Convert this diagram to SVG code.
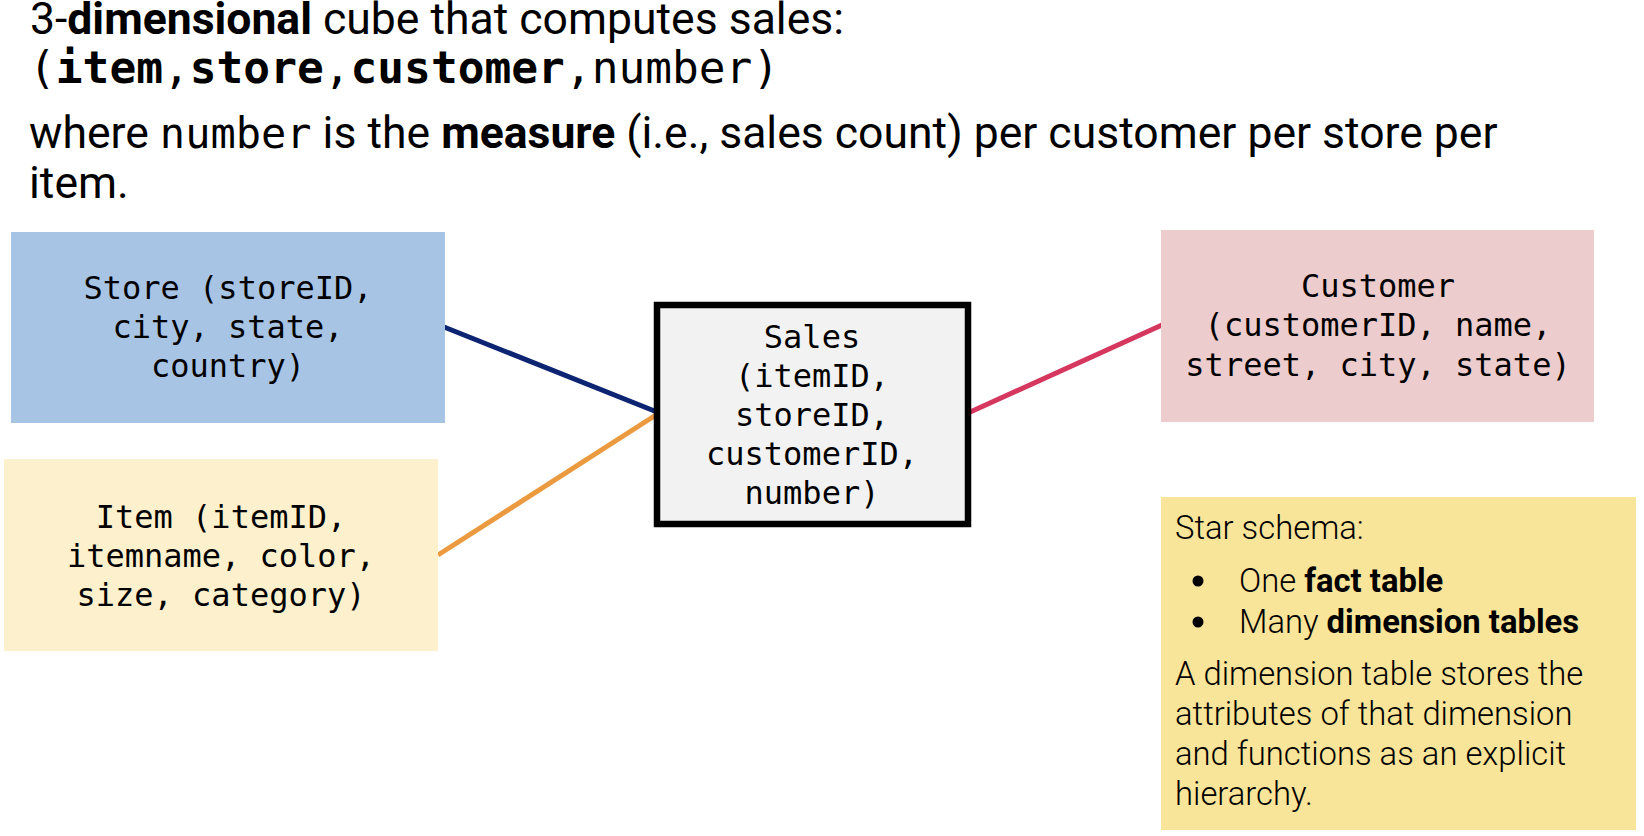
<svg xmlns="http://www.w3.org/2000/svg" width="1644" height="836" viewBox="0 0 1644 836">
<style>
.t{font-family:Roboto,"Liberation Sans",sans-serif;font-size:44.5px;fill:#000}
.m{font-family:"DejaVu Sans Mono","Liberation Mono",monospace}
.b{font-weight:bold}
.n{font-family:"DejaVu Sans Mono","Liberation Mono",monospace;font-size:32px;fill:#000;text-anchor:middle}
.s{font-family:Roboto,"Liberation Sans",sans-serif;font-size:32.8px;font-weight:300;fill:#000}
.c{fill:none;stroke-width:5}
</style>
<rect width="1644" height="836" fill="#fff"/>
<g id="title">
<text class="t" x="30" y="34">3-<tspan class="b">dimensional</tspan> cube that computes sales:</text>
<text class="t m" x="29" y="83" font-size="42">(<tspan class="b">item</tspan>,<tspan class="b">store</tspan>,<tspan class="b">customer</tspan>,number)</text>
<text class="t" x="29" y="148" font-size="45">where <tspan class="m" font-size="42">number</tspan> is the <tspan class="b">measure</tspan> (i.e., sales count) per customer per store per</text>
<text class="t" x="29" y="198" font-size="45">item.</text>
</g>
<g id="connectors">
<line class="c" x1="444" y1="327" x2="657" y2="412" stroke="#0c2471"/>
<line class="c" x1="438" y1="555" x2="659" y2="413" stroke="#eb9a3f"/>
<line class="c" x1="968" y1="413" x2="1162" y2="325" stroke="#d5375f"/>
</g>
<g id="store">
<rect x="11" y="232" width="434" height="191" fill="#a8c4e4"/>
<text class="n" x="228" y="299">Store (storeID,</text>
<text class="n" x="228" y="338">city, state,</text>
<text class="n" x="228" y="377">country)</text>
</g>
<g id="item">
<rect x="4" y="459" width="434" height="192" fill="#fcf0cd"/>
<text class="n" x="221" y="528">Item (itemID,</text>
<text class="n" x="221" y="567">itemname, color,</text>
<text class="n" x="221" y="606">size, category)</text>
</g>
<g id="sales">
<rect x="657" y="305" width="311" height="219" fill="#f2f2f2" stroke="#000" stroke-width="6.5"/>
<text class="n" x="812" y="348">Sales</text>
<text class="n" x="812" y="387">(itemID,</text>
<text class="n" x="812" y="426">storeID,</text>
<text class="n" x="812" y="465">customerID,</text>
<text class="n" x="812" y="504">number)</text>
</g>
<g id="customer">
<rect x="1161" y="230" width="433" height="192" fill="#eccccc"/>
<text class="n" x="1378" y="297">Customer</text>
<text class="n" x="1378" y="336">(customerID, name,</text>
<text class="n" x="1378" y="376">street, city, state)</text>
</g>
<g id="note">
<rect x="1161" y="497" width="475" height="333" fill="#f9e599"/>
<text class="s" x="1175" y="539">Star schema:</text>
<circle cx="1198" cy="581" r="5.5" fill="#000"/>
<circle cx="1198" cy="622" r="5.5" fill="#000"/>
<text class="s" x="1239" y="592">One <tspan font-weight="bold">fact table</tspan></text>
<text class="s" x="1239" y="633">Many <tspan font-weight="bold">dimension tables</tspan></text>
<text class="s" x="1175" y="685">A dimension table stores the</text>
<text class="s" x="1175" y="725">attributes of that dimension</text>
<text class="s" x="1175" y="765">and functions as an explicit</text>
<text class="s" x="1175" y="805">hierarchy.</text>
</g>
</svg>
